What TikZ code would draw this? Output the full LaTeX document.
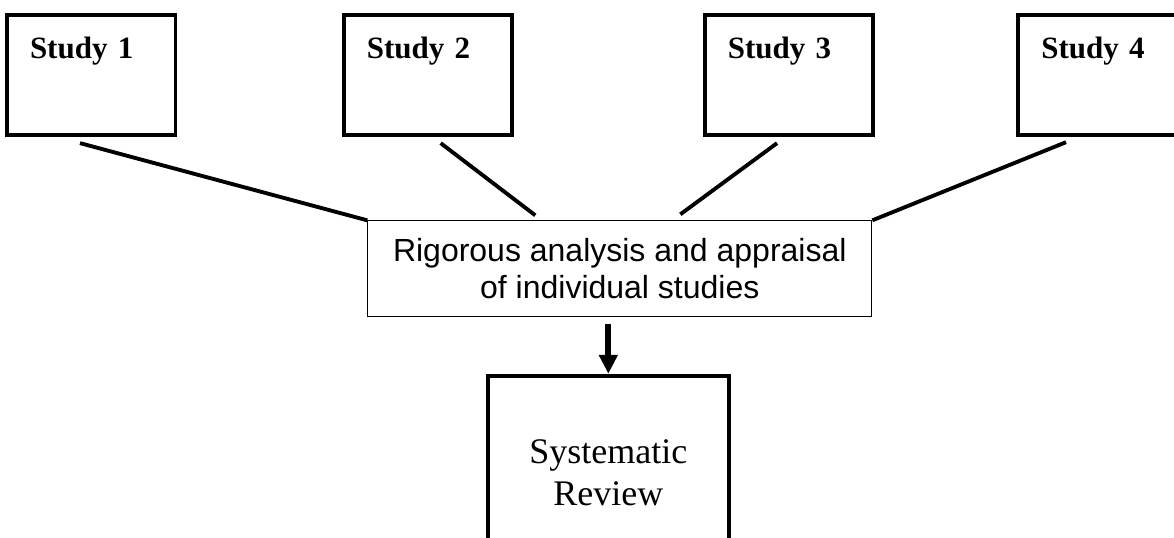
\documentclass[tikz,border=0pt]{standalone}
\usepackage{fontspec}
\setmainfont{Liberation Serif}
\setsansfont{Liberation Sans}
\usetikzlibrary{positioning,arrows.meta}

\begin{document}
\begin{tikzpicture}[
    study/.style={rectangle, draw, line width=2.9pt,
		inner xsep=17.3pt, inner ysep=0pt,
		text width=91.8pt, align=left,
		text height=32.25pt, text depth=57.5pt,
		font=\fontsize{23.25}{27}\selectfont\bfseries},
    analysis/.style={rectangle, draw, line width=0.8pt,
		minimum width=378pt, minimum height=71.6pt, align=center,
		font=\sffamily\fontsize{24}{27.75}\selectfont},
    review/.style={rectangle, draw, line width=2.9pt,
		inner sep=0pt, minimum width=180.5pt,
		text height=97.5pt, text depth=70pt, align=center,
		font=\fontsize{27}{31.5}\selectfont},
    link/.style={line width=2.9pt}
    ]

\useasboundingbox (0,0) rectangle (880.5pt,-403.5pt);
\clip (0,0) rectangle (880.5pt,-403.5pt);

\node[study, anchor=north west] (study1) at (3.75pt,-10pt) {Study 1};
\node[study, right=123.3pt of study1] (study2) {Study 2};
\node[study, right=141.5pt of study2] (study3) {Study 3};
\node[study, right=105.75pt of study3] (study4) {Study 4};

\node[analysis, below right=62.6pt and 142.4pt of study1.south east] (analysis) {
	Rigorous analysis and appraisal\\
	of individual studies
};

\node[review, below=42.7pt of analysis, xshift=-8.6pt] (review) {
	Systematic\\
	Review
};

\draw[link] ([xshift=-8.4pt,yshift=-4.7pt]study1.south) -- (analysis.north west);
\draw[link] ([xshift=9.5pt,yshift=-4.7pt]study2.south) -- ([xshift=-63.4pt,yshift=3.75pt]analysis.north);
\draw[link] ([xshift=-9pt,yshift=-4.7pt]study3.south) -- ([xshift=45.4pt,yshift=4.5pt]analysis.north);
\draw[link] ([xshift=37.3pt,yshift=-4pt]study4.south west) -- (analysis.north east);
\draw[line width=4.4pt, -{Triangle[width=13.5pt,length=14.25pt]}] ([yshift=-5pt]analysis.south -| review.north) -- (review.north);

\end{tikzpicture}
\end{document}
